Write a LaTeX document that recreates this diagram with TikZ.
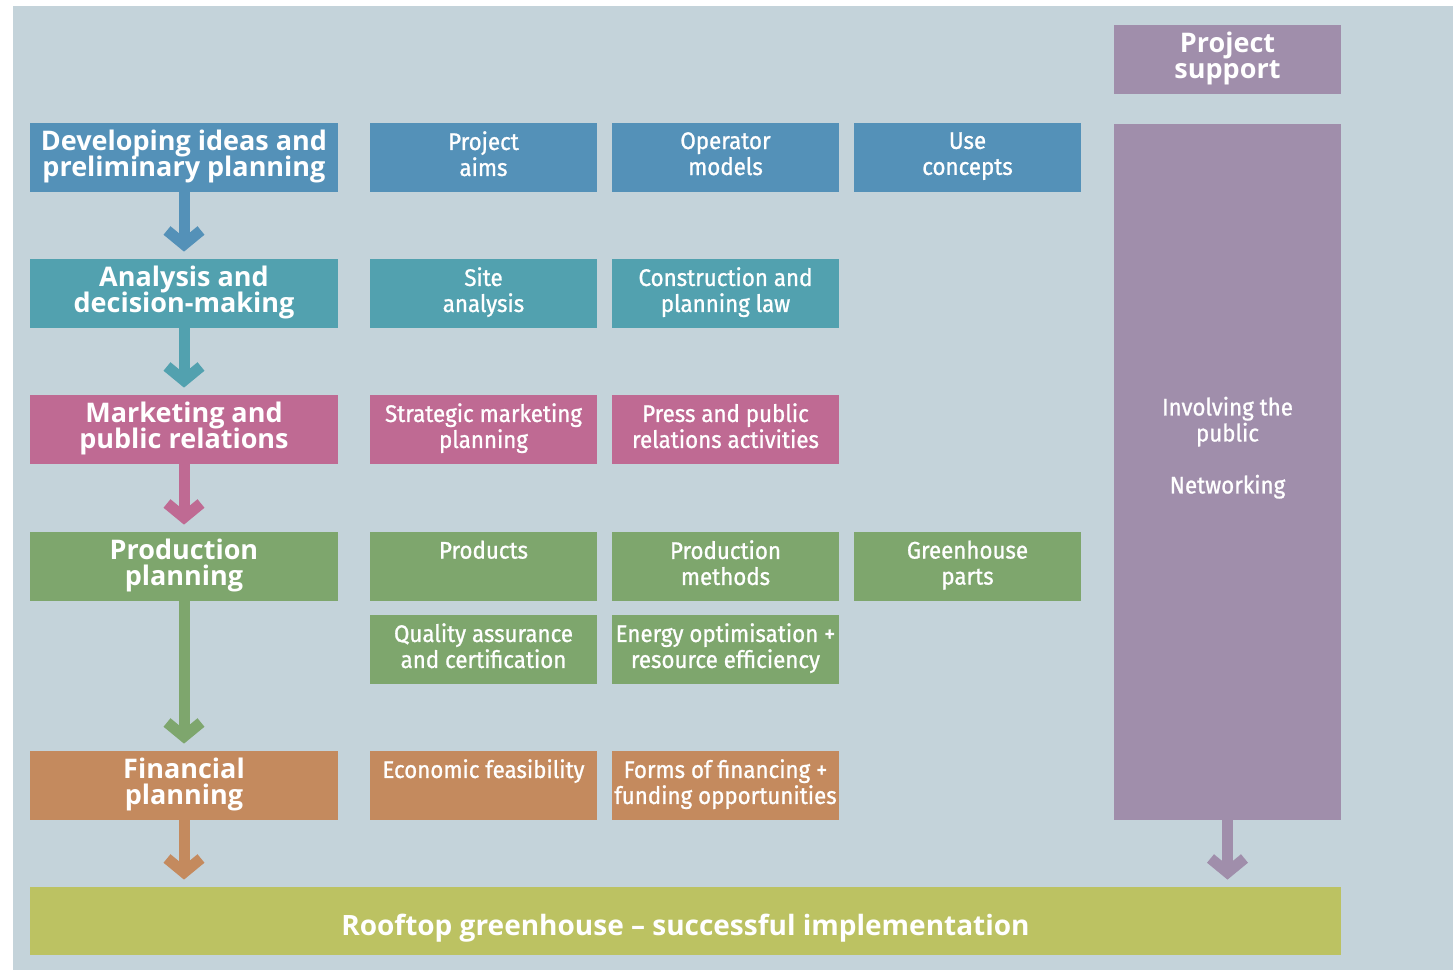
\documentclass[tikz,border=0pt]{standalone}
\usepackage{fontspec}
\setmainfont{Open Sans}
\newfontfamily\condfont[FakeStretch=0.93, FakeBold=1]{Fira Sans}
\usetikzlibrary{arrows.meta}

\definecolor{bgcol}{HTML}{C4D3DA}
\definecolor{ideacol}{HTML}{5491B8}
\definecolor{analysiscol}{HTML}{52A1AF}
\definecolor{marketcol}{HTML}{BF6A93}
\definecolor{prodcol}{HTML}{7EA66D}
\definecolor{fincol}{HTML}{C48A5E}
\definecolor{supcol}{HTML}{A08EAB}
\definecolor{goalcol}{HTML}{BCC262}

\newcommand\tightlines{\setlength{\lineskiplimit}{-20pt}}
\newcommand\topstrut{\rule[-3pt]{0pt}{15.3pt}}

\tikzset{
  phase/.style={fill=#1, text=white,
    font=\bfseries\fontsize{13.5}{13}\selectfont\tightlines,
    align=center, inner sep=0pt, minimum width=154pt, minimum height=34.5pt,
    execute at begin node=\topstrut, execute at end node=\strut},
  task/.style={fill=#1, text=white,
    font=\condfont\fontsize{12}{13}\selectfont\tightlines,
    align=center, inner sep=0pt, minimum width=113.5pt, minimum height=34.5pt,
    execute at begin node=\strut, execute at end node=\strut},
  goalbox/.style={fill=goalcol, text=white, font=\bfseries\fontsize{14}{14}\selectfont,
    inner sep=0pt, minimum width=655.5pt, minimum height=34pt,
    text height=14pt, text depth=0pt},
  flow/.style={draw=#1, line width=5.5pt, shorten >=3.5pt,
    -{Straight Barb[sharp, length=7pt, width=17pt]}}
}

\begin{document}
\begin{tikzpicture}[x=0.5pt, y=-0.5pt]
\useasboundingbox (0,0) rectangle (1453,970);
\fill[bgcol] (13,6) rectangle (1453,970); % background

% phases
\node[phase=ideacol] (idea) at (184,157.5) {Developing ideas and\\preliminary planning};
\node[phase=analysiscol] (analysis) at (184,293.5) {Analysis and\\decision-making};
\node[phase=marketcol] (market) at (184,429.5) {Marketing and\\public relations};
\node[phase=prodcol] (prod) at (184,566.5) {Production\\planning};
\node[phase=fincol] (fin) at (184,785.5) {Financial\\planning};

% tasks
\node[task=ideacol] (aims) at (483.5,157.5) {Project\\aims};
\node[task=ideacol] (operator) at (725.5,157.5) {Operator\\models};
\node[task=ideacol] (use) at (967.5,157.5) {Use\\concepts};
\node[task=analysiscol] (site) at (483.5,293.5) {Site\\analysis};
\node[task=analysiscol] (law) at (725.5,293.5) {Construction and\\planning law};
\node[task=marketcol] (strategic) at (483.5,429.5) {Strategic marketing\\planning};
\node[task=marketcol] (press) at (725.5,429.5) {Press and public\\relations activities};
\node[task=prodcol] (products) at (483.5,566.5) {Products\\~};
\node[task=prodcol] (methods) at (725.5,566.5) {Production\\methods};
\node[task=prodcol] (parts) at (967.5,566.5) {Greenhouse\\parts};
\node[task=prodcol] (quality) at (483.5,649.5) {Quality assurance\\and certification};
\node[task=prodcol] (energy) at (725.5,649.5) {Energy optimisation +\\resource efficiency};
\node[task=fincol] (economic) at (483.5,785.5) {Economic feasibility\\~};
\node[task=fincol] (financing) at (725.5,785.5) {Forms of financing +\\funding opportunities};

% project support
\node[phase=supcol, minimum width=113.5pt] (suphead) at (1227.5,59.5) {Project\\support};
\node[task=supcol, minimum height=348pt] (support) at (1227.5,472)
  {Involving the\\public\\~\\Networking\\[10pt]~};

% goal
\node[goalbox] (goal) at (685.5,921) {Rooftop greenhouse -- successful implementation};

% arrows
\draw[flow=ideacol] (idea) -- (analysis);
\draw[flow=analysiscol] (analysis) -- (market);
\draw[flow=marketcol] (market) -- (prod);
\draw[flow=prodcol] (prod) -- (fin);
\draw[flow=fincol] (fin.south) -- (fin.south |- goal.north);
\draw[flow=supcol] (support.south) -- (support.south |- goal.north);
\end{tikzpicture}
\end{document}
